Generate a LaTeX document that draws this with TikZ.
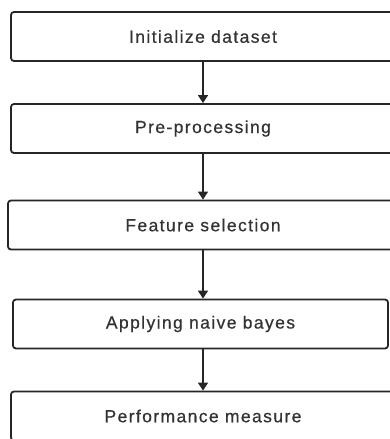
\documentclass[tikz,border=0pt]{standalone}
\usepackage{fontspec}
\setmainfont{Liberation Sans}[LetterSpace=8, FakeBold=0.6]
\usepackage{tikz}
\usetikzlibrary{arrows.meta}

\tikzset{
  stepbox/.style={draw=black!85, line width=1.8pt, rounded corners=3pt,
    minimum height=49pt, inner sep=0pt, text=black!80,
    font=\fontsize{17.5}{20}\selectfont},
  flow/.style={-{Triangle[width=10pt,length=8pt]}, line width=1.4pt, black!85}
}

\begin{document}
\begin{tikzpicture}[x=1pt, y=-1pt]
        \useasboundingbox (0,0) rectangle (390,439);
        \clip (0,0) rectangle (390,439);

        % the five steps
        \node[stepbox, minimum width=384pt] (init) at (203,36.5) {Initialize dataset};
        \node[stepbox, minimum width=384pt] (prep) at (203,128.5) {Pre-processing};
        \node[stepbox, minimum width=390pt] (feat) at (203,225) {Feature selection};
        \node[stepbox, minimum width=375pt] (nb) at (200.5,324) {Applying naive bayes};
        \node[stepbox, minimum width=384pt] (perf) at (203,416) {Performance measure};

        % arrows between them
        \draw[flow] (init.south) -- (prep.north);
        \draw[flow] (prep.south) -- (feat.north);
        \draw[flow] (feat.south) -- (feat.south |- nb.north);
        \draw[flow] (perf.north |- nb.south) -- (perf.north);
\end{tikzpicture}
\end{document}
